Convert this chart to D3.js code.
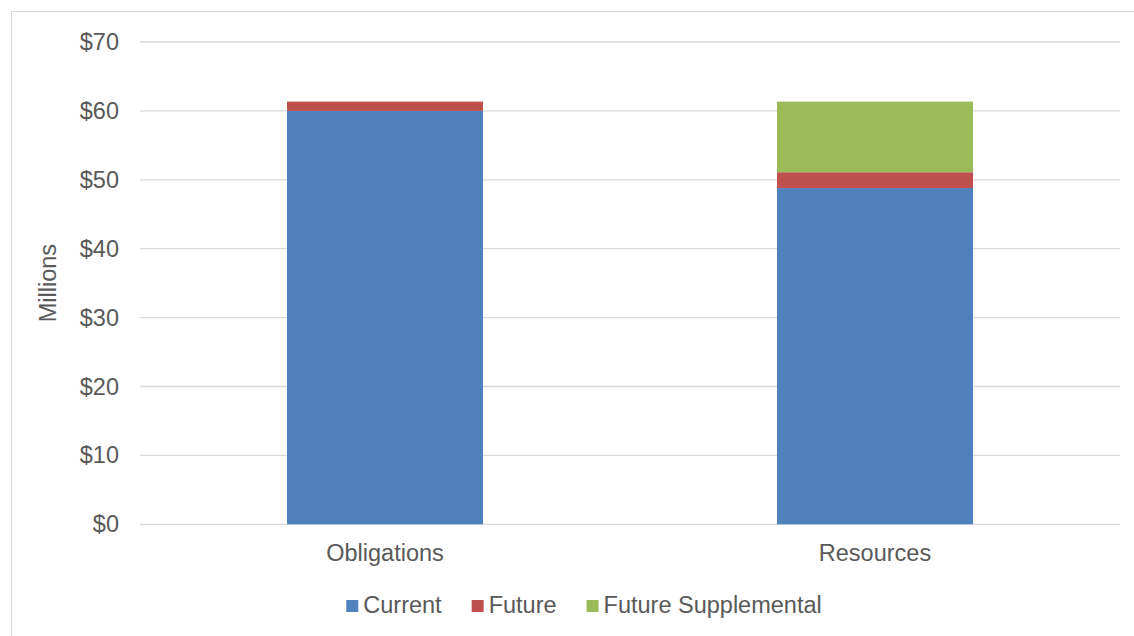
<!DOCTYPE html>
<html>
  <head>
    <meta charset="UTF-8">
    <title>Obligations vs Resources</title>
    <script src="https://cdnjs.cloudflare.com/ajax/libs/d3/7.8.5/d3.min.js"></script>
    <style>
      body { margin: 0; background: #fff; }
      svg text { font-family: "Liberation Sans", Arial, sans-serif; fill: #595959; }
      .grid line { stroke: #d9d9d9; stroke-width: 1.3px; }
    </style>
  </head>
  <body>
    <div id="chart"></div>
    <script>
      // values in $ millions
      const categories = ["Obligations", "Resources"];
      const seriesNames = ["Current", "Future", "Future Supplemental"];
      const current = [60.0, 48.8];
      const future = [1.35, 2.3];
      const futureSupplemental = [0, 10.25];
      const yTicks = [0, 10, 20, 30, 40, 50, 60, 70];
      const colors = ["#4f81bd", "#c0504d", "#9bbb59"];

      const width = 1134, height = 636;
      const fontSize = "23.5px";
      const margin = {top: 42, right: 14, bottom: 112, left: 140};
      const innerW = 1120 - margin.left;
      const innerH = 524.3 - margin.top;

      const svg = d3.select("#chart").append("svg")
        .attr("width", width)
        .attr("height", height);

      // outer frame
      svg.append("rect")
        .attr("x", 11.5).attr("y", 11.5)
        .attr("width", width + 10).attr("height", height + 10)
        .attr("fill", "none").attr("stroke", "#d9d9d9");

      const g = svg.append("g")
        .attr("transform", `translate(${margin.left},${margin.top})`);

      const x = d3.scaleBand().domain(categories).range([0, innerW]).paddingInner(0.6).paddingOuter(0.3);
      const y = d3.scaleLinear().domain([0, 70]).range([innerH, 0]);

      // gridlines
      g.append("g").attr("class", "grid")
        .selectAll("line").data(yTicks).enter().append("line")
        .attr("x1", 0).attr("x2", innerW)
        .attr("y1", d => y(d)).attr("y2", d => y(d));

      // y axis labels
      const yAxis = g.append("g")
        .call(d3.axisLeft(y).tickValues(yTicks).tickSize(0).tickPadding(21).tickFormat(d => "$" + d));
      yAxis.select(".domain").remove();
      yAxis.selectAll("text").style("font-size", fontSize).style("fill", "#595959")
        .style("font-family", "Liberation Sans, Arial, sans-serif");

      // stacked bars
      const table = categories.map((c, i) => ({
        cat: c, "Current": current[i], "Future": future[i], "Future Supplemental": futureSupplemental[i]
      }));
      const stacked = d3.stack().keys(seriesNames)(table);

      g.selectAll(".series").data(stacked).enter().append("g")
        .attr("fill", (d, i) => colors[i])
        .selectAll("rect").data(d => d).enter().append("rect")
        .attr("x", d => x(d.data.cat))
        .attr("width", x.bandwidth())
        .attr("y", d => y(d[1]))
        .attr("height", d => y(d[0]) - y(d[1]));

      // category labels
      g.selectAll(".cat").data(categories).enter().append("text")
        .attr("x", d => x(d) + x.bandwidth() / 2)
        .attr("y", innerH + 36.5)
        .attr("text-anchor", "middle")
        .style("font-size", fontSize)
        .text(d => d);

      // y title
      svg.append("text")
        .attr("transform", `translate(56,${margin.top + innerH / 2}) rotate(-90)`)
        .attr("text-anchor", "middle")
        .style("font-size", fontSize)
        .text("Millions");

      // legend
      const legend = svg.append("g");
      let lx = 0;
      seriesNames.forEach((name, i) => {
        const item = legend.append("g").attr("transform", `translate(${lx},0)`);
        item.append("rect").attr("x", 0).attr("y", -13).attr("width", 12).attr("height", 12).attr("fill", colors[i]);
        const t = item.append("text").attr("x", 17).attr("y", 0).style("font-size", fontSize).text(name);
        lx += 17 + t.node().getComputedTextLength() + 30;
      });
      const legendW = lx - 30;
      legend.attr("transform", `translate(${584 - legendW / 2},613)`);
    </script>
  </body>
</html>
